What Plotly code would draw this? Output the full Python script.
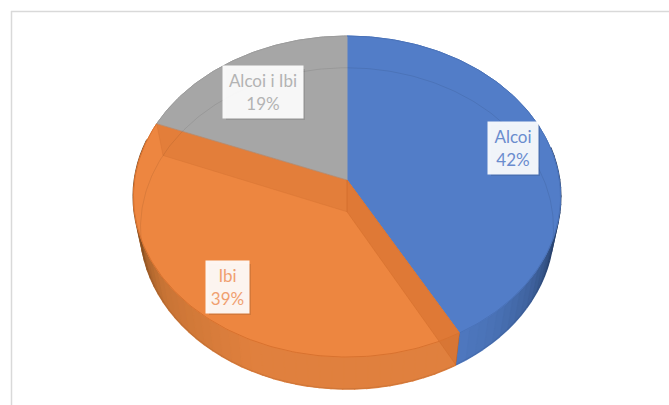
import numpy as np
import plotly.graph_objects as go

# data
categories = ["Alcoi", "Ibi", "Alcoi i Ibi"]
shares = [42, 39, 19]

top_colors = ["#527dc8", "#ed8640", "#a6a6a6"]
text_colors = ["#6a8cce", "#f0a070", "#b3b3b3"]

W, H = 669, 405
CX, CY = 347, 180  # apex of the pie, in px
SX, SY = 212.4, 158.8  # px per unit
PERSP = 0.103
DROP = 0.2  # thickness of the pie in y units
SHRINK = 0.967  # bottom disc is a bit narrower


def project(deg, r=1.0, bottom=False):
    # deg is clockwise from 12 o'clock
    a = np.radians(deg)
    u, v = r * np.sin(a), r * np.cos(a)
    d = 1 + PERSP * v
    x, y = u / d, v / d
    if bottom:
        return x * SHRINK, y - DROP
    return x, y


def arc(start, stop, bottom=False):
    return project(np.linspace(start, stop, max(int(abs(stop - start)), 2) + 1), bottom=bottom)


def mix(c1, c2, t):
    a = [int(c1[i : i + 2], 16) for i in (1, 3, 5)]
    b = [int(c2[i : i + 2], 16) for i in (1, 3, 5)]
    return "#%02x%02x%02x" % tuple(int(p + (q - p) * t) for p, q in zip(a, b))


def add_poly(fig, xs, ys, fill, line=None, width=1.0):
    fig.add_trace(
        go.Scatter(
            x=list(xs),
            y=list(ys),
            mode="lines",
            fill="toself",
            fillcolor=fill,
            line=dict(color=line or fill, width=width),
            hoverinfo="skip",
            showlegend=False,
        )
    )


def shade(angle, stops):
    for (a0, c0), (a1, c1) in zip(stops[:-1], stops[1:]):
        if a0 <= angle <= a1:
            return mix(c0, c1, (angle - a0) / (a1 - a0))
    return stops[-1][1]


def add_wall(fig, start, stop, stops):
    # side of the pie, cut in thin strips to get the shading
    tx, ty = arc(start, stop)
    bx, by = arc(stop, start, bottom=True)
    add_poly(fig, np.r_[tx, bx], np.r_[ty, by], shade(stop, stops))
    edges = np.linspace(start, stop, int(abs(stop - start) / 3) + 2)
    for a0, a1 in zip(edges[:-1], edges[1:]):
        tx, ty = arc(a0, a1)
        bx, by = arc(a1, a0, bottom=True)
        add_poly(fig, np.r_[tx, bx], np.r_[ty, by], shade((a0 + a1) / 2, stops), width=2)


ends = np.cumsum(shares) / sum(shares) * 360
starts = np.r_[0, ends[:-1]]

fig = go.Figure()

add_wall(
    fig,
    78,
    ends[0],
    [(78, "#24385c"), (106, "#2a4470"), (124, "#3f629e"), (140, "#4a72b6"), (152, "#4f79c0")],
)
add_wall(
    fig,
    ends[0],
    285,
    [(151, "#e0813f"), (205, "#e0803e"), (235, "#c97536"), (258, "#8f5424"), (285, "#6e3f18")],
)

# top faces
for i in range(len(categories)):
    ax, ay = arc(starts[i], ends[i])
    add_poly(fig, np.r_[0, ax, 0], np.r_[0, ay, 0], top_colors[i])

# inner cut walls seen through the orange slice
ex, ey = project(ends[0])
ebx, eby = project(ends[0], bottom=True)
add_poly(fig, [0, ex, ebx, 0, 0], [0, ey, eby, -DROP, 0], "rgba(205,105,40,0.42)")
gx, gy = project(ends[1])
gbx, gby = project(ends[1], bottom=True)
add_poly(fig, [0, gx, gbx, 0, 0], [0, gy, gby, -DROP, 0], "rgba(205,110,45,0.3)")

# faint edge of the bottom disc, rim of the top disc
bx, by = arc(0, 360, bottom=True)
fig.add_trace(
    go.Scatter(
        x=bx,
        y=by,
        mode="lines",
        line=dict(color="rgba(0,0,0,0.08)", width=1),
        hoverinfo="skip",
        showlegend=False,
    )
)
rims = ["#4a72b8", "#d8722f", "#9c9c9c"]
for i in range(len(categories)):
    ax, ay = arc(starts[i], ends[i])
    fig.add_trace(
        go.Scatter(
            x=ax,
            y=ay,
            mode="lines",
            line=dict(color=rims[i], width=1),
            hoverinfo="skip",
            showlegend=False,
        )
    )

# label boxes: centre x, centre y, width, height, px
boxes = [(513, 148, 48, 50), (227.5, 287, 41, 50), (263, 92, 78, 50)]
shapes = [
    dict(type="line", xref="paper", yref="paper", x0=11 / W, x1=1, y0=1 - 11.5 / H, y1=1 - 11.5 / H,
         line=dict(color="#d9d9d9", width=1.5)),
    dict(type="line", xref="paper", yref="paper", x0=11.5 / W, x1=11.5 / W, y0=0, y1=1 - 11 / H,
         line=dict(color="#d9d9d9", width=1.5)),
]
annotations = []
for name, share, color, (bx0, by0, bw, bh) in zip(categories, shares, text_colors, boxes):
    # soft shadow under the box
    shapes.append(
        dict(
            type="rect",
            xref="paper",
            yref="paper",
            x0=(bx0 - bw / 2 + 2) / W,
            x1=(bx0 + bw / 2 + 3) / W,
            y0=1 - (by0 + bh / 2 + 3) / H,
            y1=1 - (by0 - bh / 2 + 2) / H,
            fillcolor="rgba(0,0,0,0.1)",
            line=dict(width=0),
        )
    )
    annotations.append(
        dict(
            text=f"{name}<br>{share}%",
            xref="paper",
            yref="paper",
            x=bx0 / W,
            y=1 - by0 / H,
            xanchor="center",
            yanchor="middle",
            width=bw,
            height=bh,
            showarrow=False,
            align="center",
            valign="middle",
            bgcolor="rgba(255,255,255,0.92)",
            font=dict(family="Lato", size=17, color=color),
        )
    )

fig.update_layout(
    width=W,
    height=H,
    margin=dict(l=0, r=0, t=0, b=0),
    paper_bgcolor="white",
    plot_bgcolor="white",
    showlegend=False,
    shapes=shapes,
    annotations=annotations,
    xaxis=dict(visible=False, range=[-CX / SX, (W - CX) / SX]),
    yaxis=dict(visible=False, range=[-(H - CY) / SY, CY / SY]),
)

# page has a default body margin, take it away so the figure sits at 0,0
fig.write_html(
    "out.html",
    config={"displayModeBar": False},
    post_script="document.body.style.margin = '0';",
)
